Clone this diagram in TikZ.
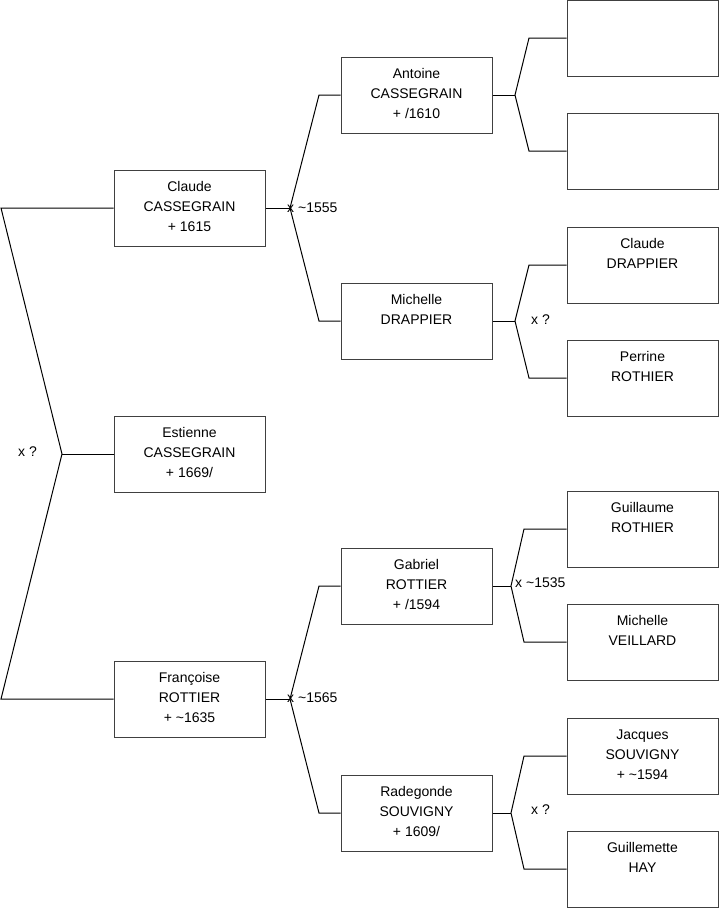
\documentclass[tikz,border=0pt]{standalone}
\usepackage{fontspec}
\setmainfont{Liberation Sans}
\begin{document}
\begin{tikzpicture}[x=1pt,y=-1pt,
  box/.style={draw=black!75,line width=1pt,minimum width=151pt,minimum height=76pt,inner sep=0pt},
  txt/.style={align=center,anchor=north,inner sep=0pt,font=\fontsize{14}{20}\selectfont,execute at begin node=\strut},
  lbl/.style={anchor=west,inner sep=0pt,font=\fontsize{14}{20}\selectfont},
  link/.style={draw=black,line width=1pt}]
\useasboundingbox (0,0) rectangle (719,908);
% boxes
\node[box] (c1) at (189.5,208) {};
\node[box] (e) at (189.5,454) {};
\node[box] (f) at (189.5,699) {};
\node[box] (a) at (416.5,95) {};
\node[box] (md) at (416.5,321) {};
\node[box] (g) at (416.5,586) {};
\node[box] (r) at (416.5,813) {};
\node[box] (p1) at (642.5,38) {};
\node[box] (p2) at (642.5,151) {};
\node[box] (p3) at (642.5,265) {};
\node[box] (p4) at (642.5,378) {};
\node[box] (p5) at (642.5,529) {};
\node[box] (p6) at (642.5,642) {};
\node[box] (p7) at (642.5,756) {};
\node[box] (p8) at (642.5,869) {};
% texts
\node[txt] (tc1) at ([yshift=-12pt]c1.north) {Claude\\CASSEGRAIN\\+ 1615};
\node[txt] (te) at ([yshift=-12pt]e.north) {Estienne\\CASSEGRAIN\\+ 1669/};
\node[txt] (tf) at ([yshift=-12pt]f.north) {Françoise\\ROTTIER\\+ \textasciitilde1635};
\node[txt] (ta) at ([yshift=-12pt]a.north) {Antoine\\CASSEGRAIN\\+ /1610};
\node[txt] (tmd) at ([yshift=-12pt]md.north) {Michelle\\DRAPPIER};
\node[txt] (tg) at ([yshift=-12pt]g.north) {Gabriel\\ROTTIER\\+ /1594};
\node[txt] (tr) at ([yshift=-12pt]r.north) {Radegonde\\SOUVIGNY\\+ 1609/};
\node[txt] (tp3) at ([yshift=-12pt]p3.north) {Claude\\DRAPPIER};
\node[txt] (tp4) at ([yshift=-12pt]p4.north) {Perrine\\ROTHIER};
\node[txt] (tp5) at ([yshift=-12pt]p5.north) {Guillaume\\ROTHIER};
\node[txt] (tp6) at ([yshift=-12pt]p6.north) {Michelle\\VEILLARD};
\node[txt] (tp7) at ([yshift=-12pt]p7.north) {Jacques\\SOUVIGNY\\+ \textasciitilde1594};
\node[txt] (tp8) at ([yshift=-12pt]p8.north) {Guillemette\\HAY};
% junctions
\coordinate (j0) at (62,454);
\coordinate (L1) at (1,208);
\coordinate (L3) at (1,699);
\coordinate (j1) at (290,208);
\coordinate (j1a) at (319,95);
\coordinate (j1b) at (319,321);
\coordinate (j2) at (290,699);
\coordinate (j2a) at (319,586);
\coordinate (j2b) at (319,813);
\coordinate (j3) at (515,95);
\coordinate (j3a) at (529,38);
\coordinate (j3b) at (529,151);
\coordinate (j4) at (515,321);
\coordinate (j4a) at (529,265);
\coordinate (j4b) at (529,378);
\coordinate (j5) at (511,586);
\coordinate (j5a) at (524,529);
\coordinate (j5b) at (524,642);
\coordinate (j6) at (511,813);
\coordinate (j6a) at (524,756);
\coordinate (j6b) at (524,869);
% connectors
\draw[link] (c1.west) -- (L1) -- (j0) -- (L3) -- (f.west);
\draw[link] (j0) -- (e.west);
\draw[link] (c1.east) -- (j1);
\draw[link] (a.west) -- (j1a) -- (j1) -- (j1b) -- (md.west);
\draw[link] (f.east) -- (j2);
\draw[link] (g.west) -- (j2a) -- (j2) -- (j2b) -- (r.west);
\draw[link] (a.east) -- (j3);
\draw[link] (p1.west) -- (j3a) -- (j3) -- (j3b) -- (p2.west);
\draw[link] (md.east) -- (j4);
\draw[link] (p3.west) -- (j4a) -- (j4) -- (j4b) -- (p4.west);
\draw[link] (g.east) -- (j5);
\draw[link] (p5.west) -- (j5a) -- (j5) -- (j5b) -- (p6.west);
\draw[link] (r.east) -- (j6);
\draw[link] (p7.west) -- (j6a) -- (j6) -- (j6b) -- (p8.west);
% labels
\node[lbl] (x0) at (18,452) {x ?};
\node[lbl] (x1) at (287,208) {x \textasciitilde1555};
\node[lbl] (x2) at (287,698) {x \textasciitilde1565};
\node[lbl] (x3) at (531,320) {x ?};
\node[lbl] (x4) at (515,583) {x \textasciitilde1535};
\node[lbl] (x5) at (531,810) {x ?};
\end{tikzpicture}
\end{document}
